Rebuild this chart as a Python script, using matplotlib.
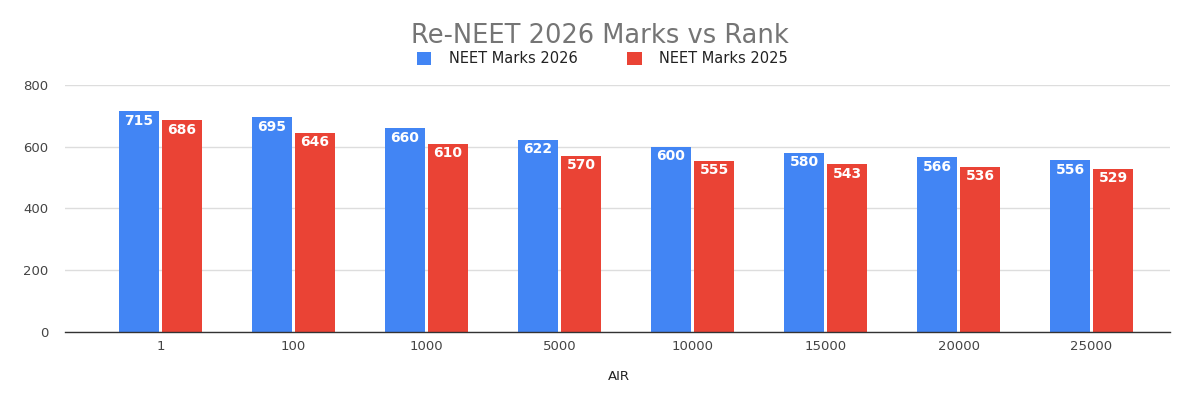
import matplotlib
matplotlib.use("Agg")
import matplotlib.pyplot as plt
import numpy as np

categories = ["1", "100", "1000", "5000", "10000", "15000", "20000", "25000"]
marks_2026 = [715, 695, 660, 622, 600, 580, 566, 556]
marks_2025 = [686, 646, 610, 570, 555, 543, 536, 529]
yticks = [0, 200, 400, 600, 800]

plt.rcParams['font.family'] = ['DejaVu Sans']

fig = plt.figure(figsize=(12, 4), dpi=100)
ax = fig.add_axes([0.054, 0.17, 0.921, 0.6175])

x = np.arange(len(categories))
w = 0.30
gap = 0.012
b1 = ax.bar(x - w/2 - gap, marks_2026, width=w, color="#4285F4", label="NEET Marks 2026", zorder=3)
b2 = ax.bar(x + w/2 + gap, marks_2025, width=w, color="#EA4335", label="NEET Marks 2025", zorder=3)

for bars, vals in ((b1, marks_2026), (b2, marks_2025)):
    for r, v in zip(bars, vals):
        ax.text(r.get_x() + r.get_width()/2, v - 8, str(v), ha="center", va="top",
                color="white", fontsize=10, fontweight="bold", zorder=4)

ax.set_xlim(-0.72, 7.59)
ax.set_ylim(0, 800)
ax.set_yticks(yticks)
ax.set_yticklabels([str(t) for t in yticks])
ax.set_xticks(x)
ax.set_xticklabels(categories)
ax.tick_params(axis="both", length=0, labelsize=9.5, colors="#444444")
ax.tick_params(axis="y", pad=12)
ax.tick_params(axis="x", pad=6)
ax.grid(axis="y", color="#dddddd", linewidth=1, zorder=0)
for s in ["top", "right", "left"]:
    ax.spines[s].set_visible(False)
ax.spines["bottom"].set_color("#333333")
ax.spines["bottom"].set_linewidth(1)
ax.spines["bottom"].set_zorder(5)

fig.text(0.5, 0.91, "Re-NEET 2026 Marks vs Rank", ha="center", va="center",
         fontsize=18.5, color="#757575")
fig.legend(handles=[b1, b2], loc="center", bbox_to_anchor=(0.502, 0.853), ncol=2,
           frameon=False, fontsize=10.5, handlelength=1.0, handleheight=1.0,
           columnspacing=3.4, handletextpad=1.2, labelcolor="#222222")
fig.text(0.516, 0.06, "AIR", ha="center", va="center", fontsize=9.5, color="#222222")

fig.savefig("out.png", dpi=100, facecolor="white")
